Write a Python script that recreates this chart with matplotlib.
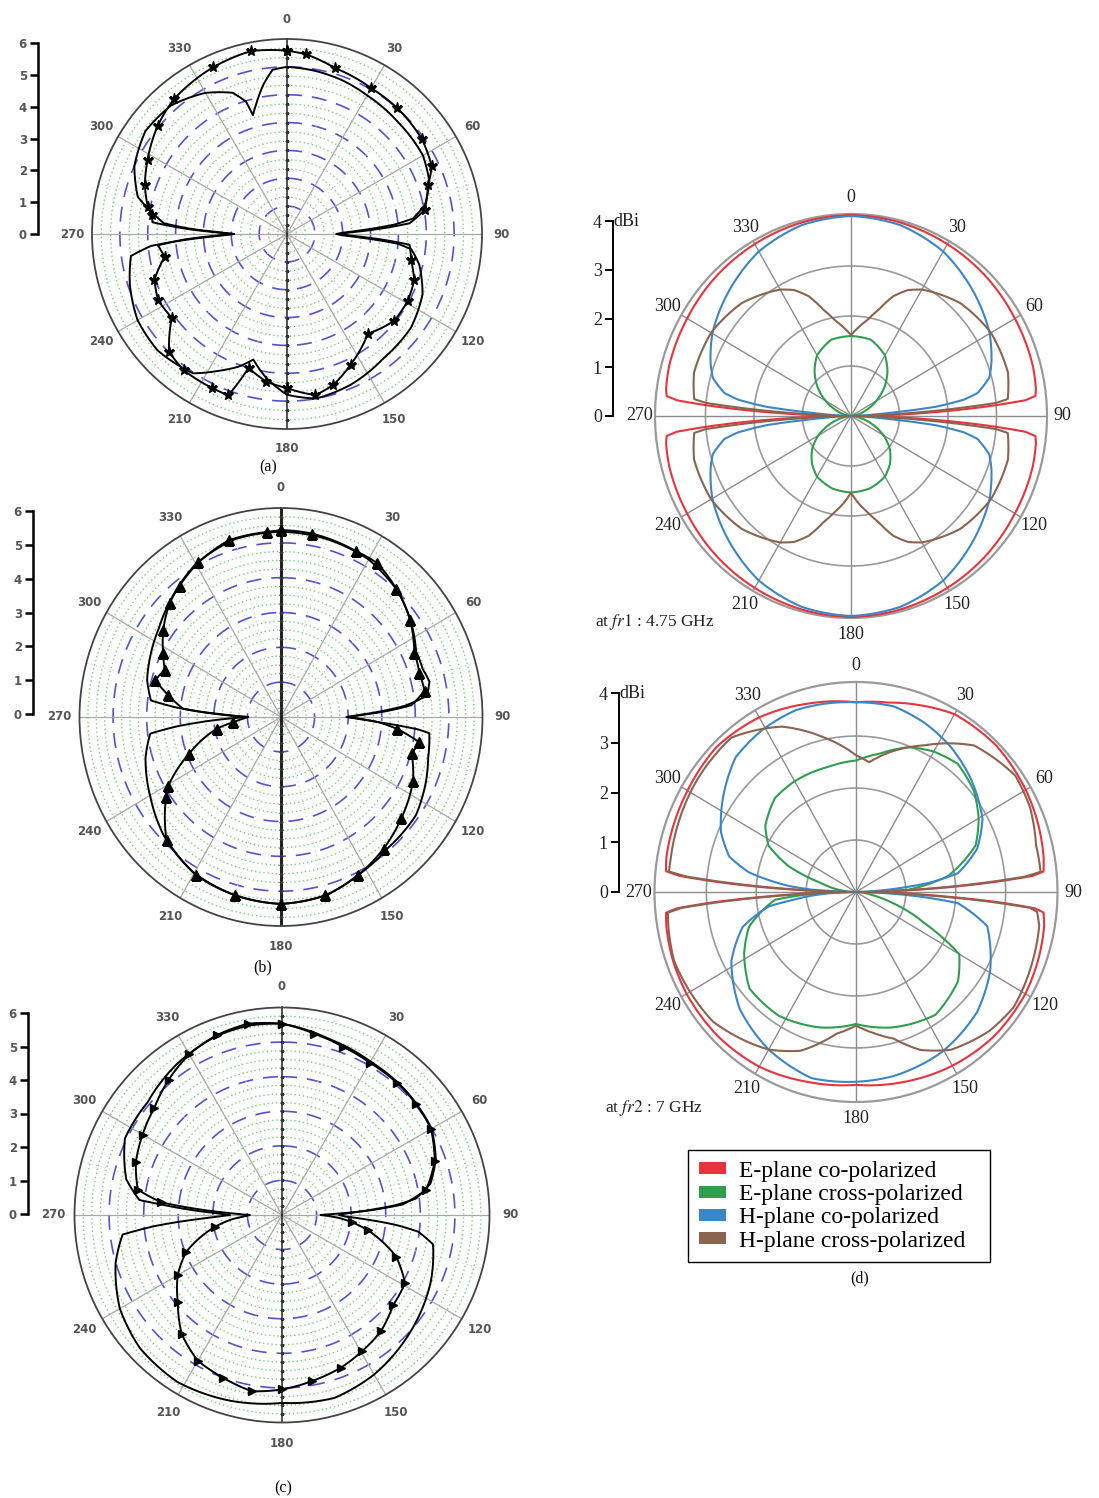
import numpy as np
import matplotlib.pyplot as plt
from matplotlib.patches import Patch, PathPatch
from matplotlib.path import Path

W, H = 1099, 1498
SERIF = 'Liberation Serif'
plt.rcParams['mathtext.fontset'] = 'stix'

# ---------------- (a) ----------------
a_meas_deg = [0, 6, 16, 30, 41, 55, 65, 71, 80, 85, 87, 88.5, 90, 91.5, 93, 95, 102, 110, 119, 129,
              141, 154, 163, 170, 180, 188, 196, 200, 206, 217, 225, 234, 243, 251, 259.5, 265, 267,
              268.5, 270, 271.5, 273, 275, 278, 281, 289, 298, 310, 320, 336, 349, 360]
a_meas_r = [5.78, 5.7, 5.45, 5.31, 5.28, 5.2, 5.04, 4.7, 4.41, 3.88, 2.8, 2.0, 1.6, 2.0, 2.8, 3.88, 4.0,
            4.27, 4.35, 4.35, 4.05, 4.58, 4.98, 5.16, 4.86, 4.7, 4.39, 5.41, 5.4, 5.39, 5.26, 4.49,
            4.57, 4.42, 3.92, 4.08, 3.2, 2.3, 1.67, 2.3, 3.2, 4.26, 4.3, 4.47, 4.74, 4.98, 5.32, 5.55,
            5.75, 5.88, 5.78]
a_sim_deg = [0, 10, 20, 30, 45, 60, 70, 78, 83, 85, 87, 88.5, 90, 91.5, 93, 95, 97, 103, 114, 127,
             142, 157, 170, 180, 188, 195, 200, 207, 214, 228, 240, 252, 262, 265, 267, 268.5, 270,
             271.5, 273, 275, 278, 284, 294, 306, 318, 330, 339, 342.8, 344, 346.5, 351, 355, 360]
a_sim_r = [5.27, 5.22, 5.15, 5.05, 4.97, 4.95, 4.78, 4.45, 4.0, 3.4, 2.4, 1.8, 1.55, 1.8, 2.4, 3.5,
           3.95, 4.28, 4.68, 4.9, 4.96, 5.16, 5.27, 5.07, 4.6, 4.1, 4.45, 4.85, 5.3, 5.49, 5.44, 5.21,
           4.97, 4.3, 3.0, 2.1, 1.67, 2.1, 3.0, 3.9, 4.2, 4.85, 5.27, 5.52, 5.46, 5.14, 4.77, 4.37,
           3.9, 4.19, 4.77, 5.2, 5.27]

# ---------------- (b) ----------------
b_meas_deg = [0, 10, 25, 33, 43, 54, 65, 73, 80, 85, 87, 88.5, 90, 91.5, 93, 95.6, 100, 105, 115,
              129, 141, 153, 165.5, 180, 195, 209, 224, 236, 239.5, 249, 260, 264, 267, 270, 272,
              274.7, 280.6, 285.8, 291.4, 297.6, 305.6, 314.7, 321.3, 331, 343, 355.5, 360]
b_meas_r = [5.5, 5.48, 5.39, 5.4, 5.16, 4.87, 4.49, 4.42, 4.45, 4.0, 3.2, 2.5, 2.0, 2.5, 3.0, 3.55,
            4.29, 4.13, 4.45, 4.73, 4.98, 5.21, 5.42, 5.5, 5.43, 5.33, 5.03, 4.23, 4.0, 3.0, 1.99,
            1.47, 1.2, 1.0, 1.6, 3.0, 3.5, 3.99, 3.81, 4.06, 4.42, 4.78, 4.95, 5.2, 5.44, 5.46, 5.5]
b_sim_deg = [0, 15, 30, 45, 55, 65, 72, 77, 82, 85, 87, 88.5, 90, 91.5, 93, 95, 96, 105, 113, 125,
             140, 153, 165, 180, 195, 210, 226, 239, 254, 263, 265, 267, 268.5, 270, 271.5, 273,
             275, 277, 285, 294, 305, 315, 330, 345, 360]
b_sim_r = [5.45, 5.42, 5.35, 5.12, 4.85, 4.55, 4.55, 4.65, 4.5, 3.8, 3.0, 2.4, 2.0, 2.4, 3.0, 4.2,
           4.55, 4.65, 4.81, 5.03, 5.05, 5.21, 5.42, 5.5, 5.43, 5.3, 4.99, 4.64, 4.3, 4.02, 3.2,
           2.2, 1.5, 1.0, 1.5, 2.2, 3.2, 4.0, 4.23, 4.37, 4.55, 4.8, 5.2, 5.42, 5.45]

# ---------------- (c) ----------------
c_meas_deg = [0, 10, 20, 30, 41, 50.5, 60, 70.6, 80, 85, 87, 88.5, 90, 93, 96, 100, 110, 119, 129,
              139.5, 149.4, 159, 169.7, 180, 189.7, 199.8, 210, 220, 230, 240, 249, 260, 265, 268,
              270, 272, 274, 276, 280, 290, 300, 310, 320, 330, 340, 350, 360]
c_meas_r = [5.67, 5.46, 5.3, 5.21, 5.19, 5.16, 5.1, 4.8, 4.34, 3.6, 2.6, 1.7, 1.14, 1.7, 2.1, 2.58,
            3.6, 4.17, 4.24, 4.52, 4.68, 4.85, 5.0, 5.17, 5.3, 5.13, 4.99, 4.62, 4.03, 3.57, 3.04,
            2.02, 1.5, 1.1, 0.95, 1.5, 2.5, 3.6, 4.34, 4.61, 4.77, 4.94, 5.23, 5.5, 5.67, 5.76, 5.67]
c_sim_deg = [0, 15, 30, 45, 60, 70, 78, 83, 85, 87, 88.5, 90, 91.5, 93, 95, 97, 101, 114, 132, 150,
             164, 180, 195, 212, 227, 240, 254, 263, 265, 267, 268.5, 270, 271.5, 273, 275, 276,
             283, 296, 310, 325, 340, 350, 360]
c_sim_r = [5.67, 5.4, 5.25, 5.2, 5.12, 4.85, 4.5, 4.0, 3.4, 2.5, 1.9, 1.69, 1.9, 2.5, 3.4, 4.07,
           4.56, 4.83, 5.14, 5.46, 5.64, 5.57, 5.71, 5.84, 5.77, 5.55, 5.13, 4.76, 3.8, 2.6, 1.9,
           1.54, 1.9, 2.6, 3.6, 4.25, 4.74, 5.18, 5.2, 5.45, 5.65, 5.7, 5.67]

# ---------------- (d) at fr1 = 4.75 GHz ----------------
fr1_e_co_deg = [0, 15, 30, 45, 60, 75, 82, 84, 85, 86, 87, 88, 89, 90, 91, 92, 93, 94, 95, 96, 98,
                105, 120, 135, 150, 165, 180, 195, 210, 225, 240, 255, 262, 264, 265, 266, 267, 268,
                269, 270, 271, 272, 273, 274, 275, 276, 278, 285, 300, 315, 330, 345, 360]
fr1_e_co_r = [4.02, 4.0, 3.97, 3.94, 3.9, 3.88, 3.85, 3.82, 3.6, 2.9, 2.1, 1.3, 0.6, 0.1, 0.6, 1.3,
              2.1, 2.9, 3.6, 3.82, 3.85, 3.88, 3.9, 3.94, 3.97, 4.0, 4.02, 4.0, 3.97, 3.94, 3.9,
              3.88, 3.85, 3.82, 3.6, 2.9, 2.1, 1.3, 0.6, 0.1, 0.6, 1.3, 2.1, 2.9, 3.6, 3.82, 3.85,
              3.88, 3.9, 3.94, 3.97, 4.0, 4.02]
fr1_e_x_deg = [0, 15, 30, 40, 50, 60, 70, 80, 90, 100, 110, 120, 130, 140, 150, 165, 180, 195, 210,
               220, 230, 240, 250, 260, 270, 280, 290, 300, 310, 320, 330, 345, 360]
fr1_e_x_r = [1.6, 1.58, 1.4, 1.17, 0.9, 0.6, 0.32, 0.1, 0.0, 0.15, 0.45, 0.78, 1.05, 1.25, 1.4, 1.5,
             1.53, 1.5, 1.4, 1.25, 1.05, 0.78, 0.45, 0.15, 0.0, 0.1, 0.32, 0.6, 0.9, 1.17, 1.4,
             1.58, 1.6]
fr1_h_co_deg = [0, 15, 30, 45, 60, 70, 75, 80, 82, 84, 85, 86, 88, 90, 92, 94, 95, 96, 98, 100, 105,
                110, 120, 135, 150, 165, 180, 195, 210, 225, 240, 250, 255, 260, 262, 264, 265, 266,
                268, 270, 272, 274, 275, 276, 278, 280, 285, 290, 300, 315, 330, 345, 360]
fr1_h_co_r = [4.0, 3.95, 3.8, 3.55, 3.3, 3.08, 2.95, 2.65, 2.35, 1.75, 1.1, 0.6, 0.2, 0.0, 0.2, 0.6,
              1.1, 1.75, 2.35, 2.65, 2.95, 3.08, 3.3, 3.55, 3.8, 3.95, 4.0, 3.95, 3.8, 3.55, 3.3,
              3.08, 2.95, 2.65, 2.35, 1.75, 1.1, 0.6, 0.2, 0.0, 0.2, 0.6, 1.1, 1.75, 2.35, 2.65,
              2.95, 3.08, 3.3, 3.55, 3.8, 3.95, 4.0]
fr1_h_x_deg = [0, 5, 10, 15, 20, 25, 30, 45, 60, 75, 84, 85, 86, 87, 88, 90, 92, 93, 94, 95, 96, 105,
               120, 135, 150, 155, 160, 165, 170, 175, 180, 185, 190, 195, 200, 205, 210, 225, 240,
               255, 264, 265, 266, 267, 268, 270, 272, 273, 274, 275, 276, 285, 300, 315, 330, 335,
               340, 345, 350, 355, 360]
fr1_h_x_r = [1.62, 1.78, 1.95, 2.2, 2.55, 2.78, 2.92, 3.19, 3.33, 3.35, 3.25, 3.0, 2.2, 1.4, 0.7,
             0.05, 0.7, 1.4, 2.2, 3.0, 3.25, 3.35, 3.33, 3.19, 2.92, 2.78, 2.55, 2.2, 1.95, 1.75,
             1.53, 1.75, 1.95, 2.2, 2.55, 2.78, 2.92, 3.19, 3.33, 3.35, 3.25, 3.0, 2.2, 1.4, 0.7,
             0.05, 0.7, 1.4, 2.2, 3.0, 3.25, 3.35, 3.33, 3.19, 2.92, 2.78, 2.55, 2.2, 1.95, 1.78,
             1.62]

# ---------------- (d) at fr2 = 7 GHz ----------------
fr2_e_co_deg = [0, 10, 20, 30, 45, 60, 70, 80, 84, 85, 86, 87, 88, 89, 90, 91, 92, 93, 94, 95, 96,
                100, 110, 120, 135, 150, 165, 180, 195, 210, 225, 240, 250, 260, 264, 265, 266, 267,
                268, 269, 270, 271, 272, 273, 274, 275, 276, 280, 290, 300, 315, 330, 345, 360]
fr2_e_co_r = [3.65, 3.7, 3.82, 3.95, 3.98, 3.93, 3.88, 3.82, 3.78, 3.55, 2.8, 2.0, 1.2, 0.5, 0.08,
              0.5, 1.2, 2.0, 2.9, 3.6, 3.78, 3.83, 3.88, 3.92, 3.92, 3.86, 3.78, 3.71, 3.78, 3.88,
              3.92, 3.92, 3.9, 3.86, 3.83, 3.6, 2.9, 2.0, 1.2, 0.5, 0.08, 0.5, 1.2, 2.0, 2.8, 3.55,
              3.83, 3.86, 3.88, 3.9, 3.95, 3.88, 3.75, 3.65]
fr2_e_x_deg = [0, 10, 20.8, 30, 39.6, 50.6, 60, 69.5, 80.5, 87.5, 90, 100, 106, 113.7, 120, 130, 146,
               165, 180, 195, 213, 229, 242, 252.6, 264.7, 268, 270, 276, 284, 290.3, 297, 305, 318,
               330, 346.5, 360]
fr2_e_x_r = [2.53, 2.7, 2.98, 3.12, 3.2, 3.06, 2.84, 2.56, 1.87, 1.06, 0.0, 0.3, 0.76, 1.51, 2.39,
             2.67, 2.85, 2.7, 2.54, 2.7, 2.84, 2.83, 2.54, 2.25, 1.63, 0.8, 0.0, 0.3, 0.73, 1.45,
             1.97, 2.22, 2.43, 2.46, 2.47, 2.53]
fr2_h_co_deg = [0, 12, 23, 34, 46, 61, 71, 80, 83, 85, 87, 90, 92, 94, 96, 104, 119.5, 133.5, 151,
                168, 180, 194, 210, 226, 242, 253.5, 261, 263, 266, 268, 270, 272, 273, 275, 280,
                285, 293, 304, 317, 329, 341, 360]
fr2_h_co_r = [3.65, 3.65, 3.53, 3.38, 3.18, 2.9, 2.57, 2.07, 1.5, 0.9, 0.4, 0.0, 0.5, 1.3, 2.05,
              2.71, 3.09, 3.35, 3.53, 3.62, 3.65, 3.69, 3.5, 3.24, 2.83, 2.37, 1.77, 1.3, 0.8, 0.4,
              0.0, 0.4, 0.9, 1.36, 2.18, 2.63, 2.94, 3.22, 3.54, 3.64, 3.7, 3.65]
fr2_h_x_deg = [0, 6, 15, 26, 40, 55, 65, 76, 84, 85, 86, 87, 88, 89, 90, 91, 92, 93, 94, 95, 96, 100,
               110, 125, 135, 148, 157, 165, 172, 180, 188, 191.5, 200, 210, 229, 250, 260, 264,
               265, 266, 267, 268, 269, 270, 271, 272, 273, 274, 275, 276, 280, 290, 305, 320, 335,
               347, 355, 360]
fr2_h_x_r = [2.63, 2.51, 2.8, 3.14, 3.68, 3.9, 3.85, 3.72, 3.72, 3.4, 2.6, 1.8, 1.0, 0.4, 0.05, 0.4,
             1.0, 1.8, 2.7, 3.5, 3.65, 3.73, 3.78, 3.86, 3.78, 3.58, 3.3, 2.92, 2.75, 2.57, 2.75,
             2.89, 3.25, 3.5, 3.8, 3.88, 3.82, 3.79, 3.5, 2.7, 1.8, 1.0, 0.4, 0.05, 0.4, 1.0, 1.8,
             2.6, 3.4, 3.77, 3.77, 3.8, 3.85, 3.88, 3.51, 3.07, 2.8, 2.63]

legend_labels = ['E-plane co-polarized', 'E-plane cross-polarized',
                 'H-plane co-polarized', 'H-plane cross-polarized']
legend_colors = ['#e8343c', '#2f9e4f', '#3a86c8', '#8b6450']
angle_ticks = list(range(0, 360, 30))

FULL = np.linspace(0, 2 * np.pi, 721)


def add_polar(fig, cx, cy, rx, ry, rmax):
    ax = fig.add_axes([(cx - rx) / W, 1 - (cy + ry) / H, 2 * rx / W, 2 * ry / H],
                      projection='polar')
    ax.set_aspect('auto')
    ax.set_theta_zero_location('N')
    ax.set_theta_direction(-1)
    ax.set_ylim(0, rmax)
    ax.set_xticks([])
    ax.set_yticks([])
    ax.grid(False)
    return ax


def curve(ax, deg, r, **kw):
    # polar path, segments interpolated in (theta, r) by the projection
    path = Path(np.column_stack([np.radians(deg), r]), _interpolation_steps=24)
    ax.add_patch(PathPatch(path, fill=False, transform=ax.transData,
                           joinstyle='round', **kw))


def ring(ax, r, **kw):
    ax.plot(FULL, np.full_like(FULL, r), **kw)


def spoke(ax, deg, r0, r1, **kw):
    ax.plot([np.radians(deg)] * 2, [r0, r1], **kw)


def scale_bar(fig, x, y0, y1, top, lw, size, color, family, weight='normal'):
    bx = fig.add_axes([x / W, 1 - y0 / H, 0.0005, (y0 - y1) / H])
    bx.set_ylim(0, top)
    for s in ['top', 'right', 'bottom']:
        bx.spines[s].set_visible(False)
    bx.spines['left'].set_linewidth(lw)
    bx.patch.set_visible(False)
    bx.set_xticks([])
    bx.set_yticks(range(top + 1))
    bx.set_yticklabels([str(v) for v in range(top + 1)], fontsize=size, color=color,
                       family=family, fontweight=weight)
    bx.tick_params(axis='y', direction='out', length=6, width=lw, pad=2)
    return bx


def measured_panel(fig, cx, cy, rx, ry, n_major, n_minor, vlw,
                   meas_deg, meas_r, sim_deg, sim_r, marker, ms, bar):
    rmax = 6.15
    ax = add_polar(fig, cx, cy, rx, ry, rmax)
    step = rmax / n_major
    for k in range(1, n_major * (n_minor + 1)):
        r = k * step / (n_minor + 1)
        if k % (n_minor + 1) == 0:
            ring(ax, r, color='#5252d2', lw=1.2, dashes=(9, 6), zorder=1)
        else:
            ring(ax, r, color='#6fd86f', lw=1.0, linestyle=(0, (1, 2)), zorder=1)
    for ang in range(15, 360, 30):
        spoke(ax, ang, 0, rmax, color='#d9bfcc', lw=0.8, linestyle=(0, (1, 3)), zorder=1)
    for ang in range(30, 360, 30):
        if ang != 180:
            spoke(ax, ang, 0, rmax, color='#a8a8a8', lw=0.9, zorder=1)
    spoke(ax, 0, 0, rmax, color='#222222', lw=vlw, zorder=2)
    spoke(ax, 180, 0, rmax, color='#222222', lw=vlw, zorder=2)
    minor = np.arange(1, n_major * (n_minor + 1)) * step / (n_minor + 1)
    ax.plot(np.zeros_like(minor), minor, ls='none', marker='_', ms=3, mew=0.8, color='#333333',
            zorder=2)
    ax.plot(np.full_like(minor, np.pi), minor, ls='none', marker='_', ms=3, mew=0.8,
            color='#333333', zorder=2)
    ax.spines['polar'].set_color('#444444')
    ax.spines['polar'].set_linewidth(1.3)

    curve(ax, sim_deg, sim_r, edgecolor='k', lw=1.4, zorder=3)
    curve(ax, meas_deg, meas_r, edgecolor='k', lw=1.4, zorder=4)
    marks = [min(abs(d - 90), abs(d - 270)) > 5 for d in meas_deg]
    ax.plot(np.radians(meas_deg), meas_r, ls='none', color='k', marker=marker, ms=ms,
            markevery=marks, zorder=4)

    for ang in angle_ticks:
        ax.text(np.radians(ang), rmax * 1.1, str(ang), ha='center', va='center',
                fontsize=8.5, color='#555555', fontweight='bold')
    scale_bar(fig, bar[0], bar[1], bar[2], 6, 1.8, 8.5, '#555555', 'DejaVu Sans', 'bold')
    return ax


def antenna_panel(fig, cx, cy, rx, ry, curves, bar, note, note_xy):
    rmax = 4.04
    ax = add_polar(fig, cx, cy, rx, ry, rmax)
    for r in (1, 2, 3):
        ring(ax, r, color='#9a9a9a', lw=1.2, zorder=1)
    for ang in angle_ticks:
        spoke(ax, ang, 0, rmax, color='#8c8c8c', lw=1.0, zorder=1)
    ax.spines['polar'].set_color('#9a9a9a')
    ax.spines['polar'].set_linewidth(1.6)
    for (deg, r), color in zip(curves, legend_colors):
        curve(ax, deg, r, edgecolor=color, lw=1.5, zorder=3)
    for ang in angle_ticks:
        ax.text(np.radians(ang), rmax * 1.08, str(ang), ha='center', va='center',
                fontsize=13, family=SERIF, color='#222222')
    bx = scale_bar(fig, bar[0], bar[1], bar[2], 4, 1.4, 13, '#222222', SERIF)
    bx.text(0.8, 4, 'dBi', transform=bx.get_yaxis_transform(), ha='left', va='center',
            fontsize=13, family=SERIF, color='#222222')
    fig.text(note_xy[0] / W, 1 - note_xy[1] / H, note, ha='left', va='center',
             fontsize=12.5, family=SERIF, color='#222222')
    return ax


fig = plt.figure(figsize=(W / 100, H / 100), dpi=100)

measured_panel(fig, 287, 234, 195, 195, 7, 2, 1.1, a_meas_deg, a_meas_r, a_sim_deg, a_sim_r,
               '*', 8, (38, 234, 43))
measured_panel(fig, 281, 717, 201.5, 209, 6, 3, 2.2, b_meas_deg, b_meas_r, b_sim_deg, b_sim_r,
               '^', 7, (33, 714, 511))
measured_panel(fig, 282, 1215, 207.5, 207.5, 6, 3, 1.1, c_meas_deg, c_meas_r, c_sim_deg, c_sim_r,
               '>', 6, (28, 1214, 1013))

antenna_panel(fig, 851, 416, 196, 202,
              [(fr1_e_co_deg, fr1_e_co_r), (fr1_e_x_deg, fr1_e_x_r),
               (fr1_h_co_deg, fr1_h_co_r), (fr1_h_x_deg, fr1_h_x_r)],
              (613, 416, 221), r'at $\mathit{fr1}$ : 4.75 GHz', (595, 622))
antenna_panel(fig, 856, 892, 201.5, 210,
              [(fr2_e_co_deg, fr2_e_co_r), (fr2_e_x_deg, fr2_e_x_r),
               (fr2_h_co_deg, fr2_h_co_r), (fr2_h_x_deg, fr2_h_x_r)],
              (619, 892, 693), r'at $\mathit{fr2}$ : 7 GHz', (605, 1108))

handles = [Patch(facecolor=c, edgecolor='none', label=l)
           for c, l in zip(legend_colors, legend_labels)]
fig.legend(handles=handles, loc='upper left', mode='expand',
           bbox_to_anchor=(688 / W, 1 - 1263 / H, 302 / W, 113 / H),
           prop={'family': SERIF, 'size': 17}, frameon=True, fancybox=False,
           edgecolor='k', framealpha=1, handlelength=1.15, handleheight=0.4,
           handletextpad=0.55, labelspacing=0.1, borderpad=0.45, borderaxespad=0)

for label, x, y in [('(a)', 268, 467), ('(b)', 263, 967), ('(c)', 283, 1488), ('(d)', 860, 1278)]:
    fig.text(x / W, 1 - y / H, label, ha='center', va='center', fontsize=11.5, family=SERIF)

fig.savefig('out.png', dpi=100, facecolor='white')
